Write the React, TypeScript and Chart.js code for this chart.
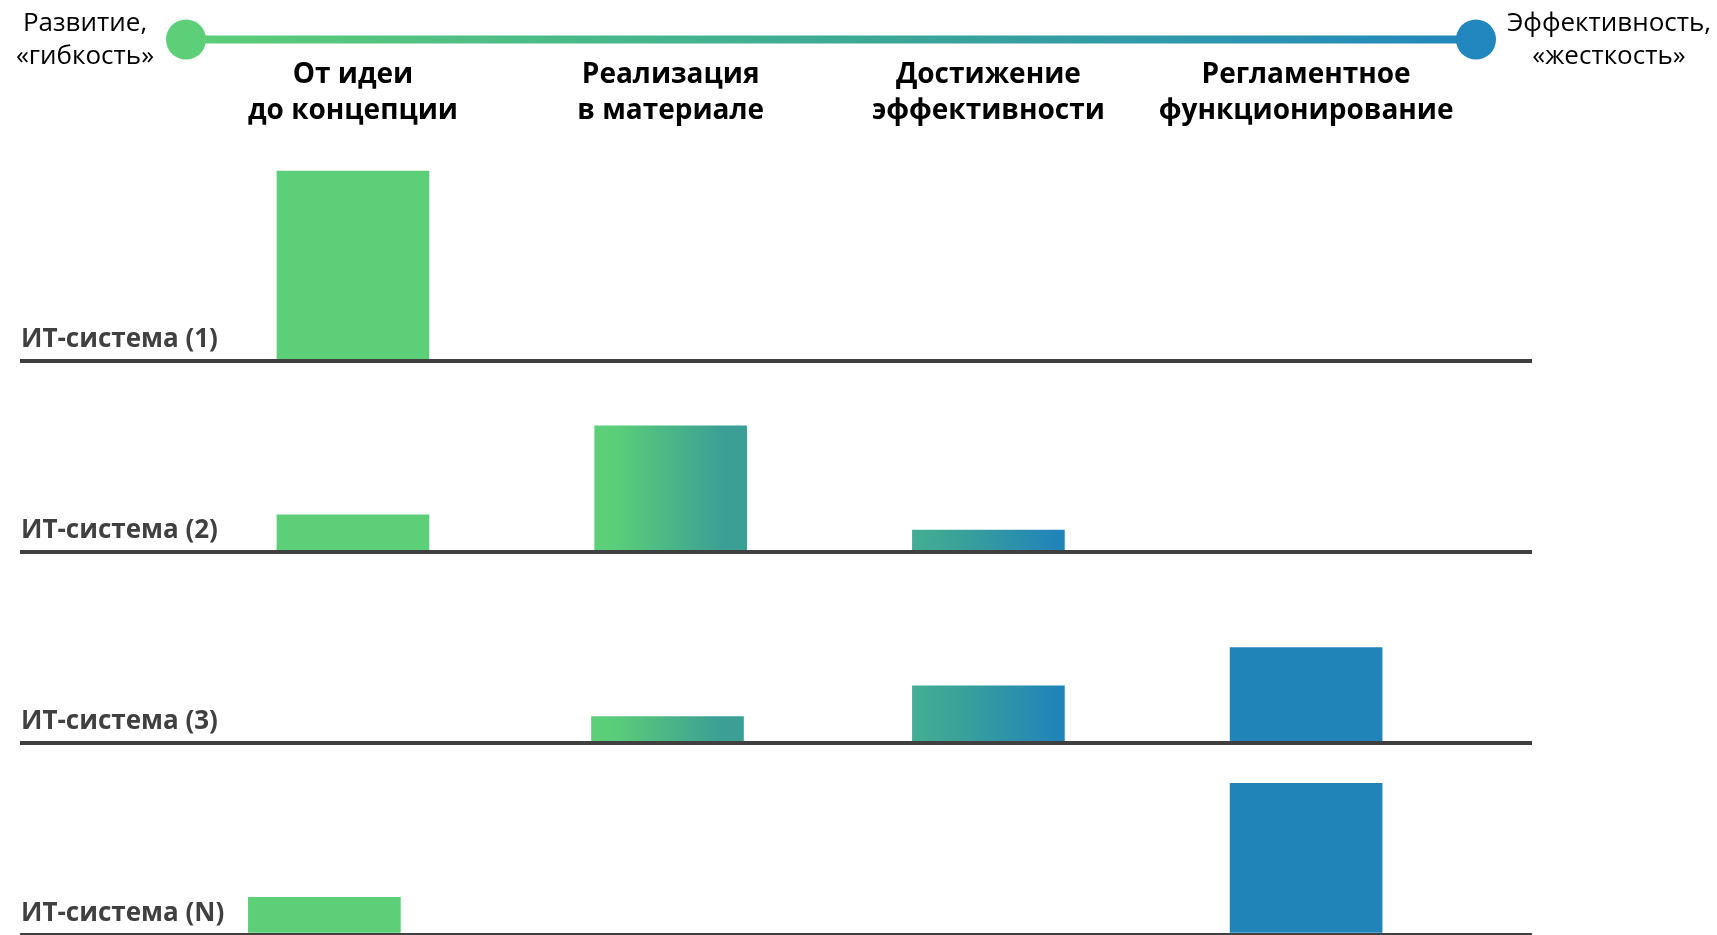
import React, { useEffect, useRef } from "react";
import { Chart, registerables } from "chart.js";

Chart.register(...registerables);

// ---- data ----
const STAGES: string[][] = [
  ["От идеи", "до концепции"],
  ["Реализация", "в материале"],
  ["Достижение", "эффективности"],
  ["Регламентное", "функционирование"],
];
const SYSTEMS: string[] = ["ИТ-система (1)", "ИТ-система (2)", "ИТ-система (3)", "ИТ-система (N)"];
// x = stage index (0..3), y = relative intensity (0..100)
const SYSTEM1 = [{ x: 0, y: 99.2 }];
const SYSTEM2 = [
  { x: 0, y: 19.5 },
  { x: 1, y: 66 },
  { x: 2, y: 11.5 },
];
const SYSTEM3 = [
  { x: 0.99, y: 14 },
  { x: 2, y: 30 },
  { x: 3, y: 50 },
];
const SYSTEMN = [
  { x: -0.09, y: 19.5 },
  { x: 3, y: 79 },
];
const LEFT_POLE = ["Развитие,", "«гибкость»"];
const RIGHT_POLE = ["Эффективность,", "«жесткость»"];

// ---- styles ----
const GREEN = "#5CCF78";
const TEAL_A = "#3B9F95";
const TEAL_B = "#44AE93";
const BLUE = "#2184B9";
const DARK = "#404040";
const BAR_W = 152;
const FONT = "'Open Sans', 'Noto Sans', sans-serif";

function barFill(ctx: any) {
  const chart = ctx.chart;
  const raw = ctx.raw as { x: number; y: number } | undefined;
  if (!raw || !chart.chartArea || !chart.scales.x) return GREEN;
  const col = Math.round(raw.x);
  if (col <= 0) return GREEN;
  if (col >= 3) return BLUE;
  const cx = chart.scales.x.getPixelForValue(raw.x);
  const g = chart.ctx.createLinearGradient(cx - BAR_W / 2, 0, cx + BAR_W / 2, 0);
  if (col === 1) {
    g.addColorStop(0, "#5DD078");
    g.addColorStop(0.15, "#5ACD79");
    g.addColorStop(0.85, TEAL_A);
    g.addColorStop(1, TEAL_A);
  } else {
    g.addColorStop(0, TEAL_B);
    g.addColorStop(0.3, "#3AA298");
    g.addColorStop(0.95, BLUE);
    g.addColorStop(1, BLUE);
  }
  return g;
}

const decorPlugin = {
  id: "decor",
  afterDraw(chart: any) {
    const c = chart.ctx as CanvasRenderingContext2D;
    const W = chart.width;
    c.save();
    // top gradient axis
    const x0 = 186, x1 = W - 241, y = 39.5;
    const g = c.createLinearGradient(x0, 0, x1, 0);
    g.addColorStop(0, GREEN);
    g.addColorStop(0.5, "#3DAA94");
    g.addColorStop(1, "#2287BE");
    c.strokeStyle = g;
    c.lineWidth = 8;
    c.beginPath();
    c.moveTo(x0, y);
    c.lineTo(x1, y);
    c.stroke();
    c.fillStyle = GREEN;
    c.beginPath();
    c.arc(x0, y, 20, 0, Math.PI * 2);
    c.fill();
    c.fillStyle = "#2287BE";
    c.beginPath();
    c.arc(x1, y, 20, 0, Math.PI * 2);
    c.fill();
    // pole labels
    c.font = `26px ${FONT}`;
    c.fillStyle = "#000";
    c.textAlign = "center";
    c.textBaseline = "alphabetic";
    LEFT_POLE.forEach((t, i) => c.fillText(t, 85, 31 + i * 33));
    RIGHT_POLE.forEach((t, i) => c.fillText(t, W - 108, 31 + i * 33));
    // row labels
    c.font = `bold 26px ${FONT}`;
    c.fillStyle = DARK;
    c.textAlign = "left";
    ["y1", "y2", "y3", "yN"].forEach((id, i) => {
      const s = chart.scales[id];
      const base = s.getPixelForValue(0);
      c.fillText(SYSTEMS[i], chart.chartArea.left + 1, base - 14);
    });
    c.restore();
  },
};

function rowScale(weight: number) {
  return {
    type: "linear" as const,
    position: "left" as const,
    stack: "rows",
    stackWeight: 1,
    weight,
    min: 0,
    max: 100,
    offset: false,
    afterBuildTicks: (s: any) => {
      s.ticks = [{ value: 0 }];
    },
    ticks: { display: false },
    border: { display: false },
    grid: { color: DARK, lineWidth: 4, drawTicks: false, z: 1 },
  };
}

export default function App() {
  const ref = useRef<HTMLCanvasElement>(null);
  useEffect(() => {
    if (!ref.current) return;
    const ds = (data: any[], axis: string) => ({
      data,
      yAxisID: axis,
      backgroundColor: barFill,
      borderWidth: 0,
      barThickness: BAR_W,
      grouped: false,
    });
    const chart = new Chart(ref.current, {
      type: "bar",
      data: {
        datasets: [
          ds(SYSTEM1, "y1"),
          ds(SYSTEM2, "y2"),
          ds(SYSTEM3, "y3"),
          ds(SYSTEMN, "yN"),
        ] as any,
      },
      options: {
        animation: false,
        responsive: true,
        maintainAspectRatio: false,
        layout: { padding: { left: 20, right: 185, top: 0, bottom: 0.5 } },
        plugins: { legend: { display: false }, tooltip: { enabled: false } },
        scales: {
          x: {
            type: "linear",
            position: "top",
            offset: false,
            min: -1.048,
            max: 3.711,
            afterBuildTicks: (s: any) => {
              s.ticks = STAGES.map((_, i) => ({ value: i }));
            },
            afterFit: (s: any) => {
              s.height = 169.5;
            },
            ticks: {
              autoSkip: false,
              maxRotation: 0,
              padding: 40,
              color: "#000",
              font: { family: FONT, size: 28, weight: "bold", lineHeight: 36 / 28 },
              callback: (_v: any, i: number) => STAGES[i],
            },
            grid: { display: false, drawTicks: false },
            border: { display: false },
          },
          y1: rowScale(4),
          y2: rowScale(3),
          y3: rowScale(2),
          yN: rowScale(1),
        } as any,
      },
      plugins: [decorPlugin],
    });
    return () => chart.destroy();
  }, []);
  return (
    <div style={{ position: "fixed", left: 0, top: 0, width: 1717, height: 935, background: "#fff" }}>
      <canvas ref={ref} />
    </div>
  );
}
